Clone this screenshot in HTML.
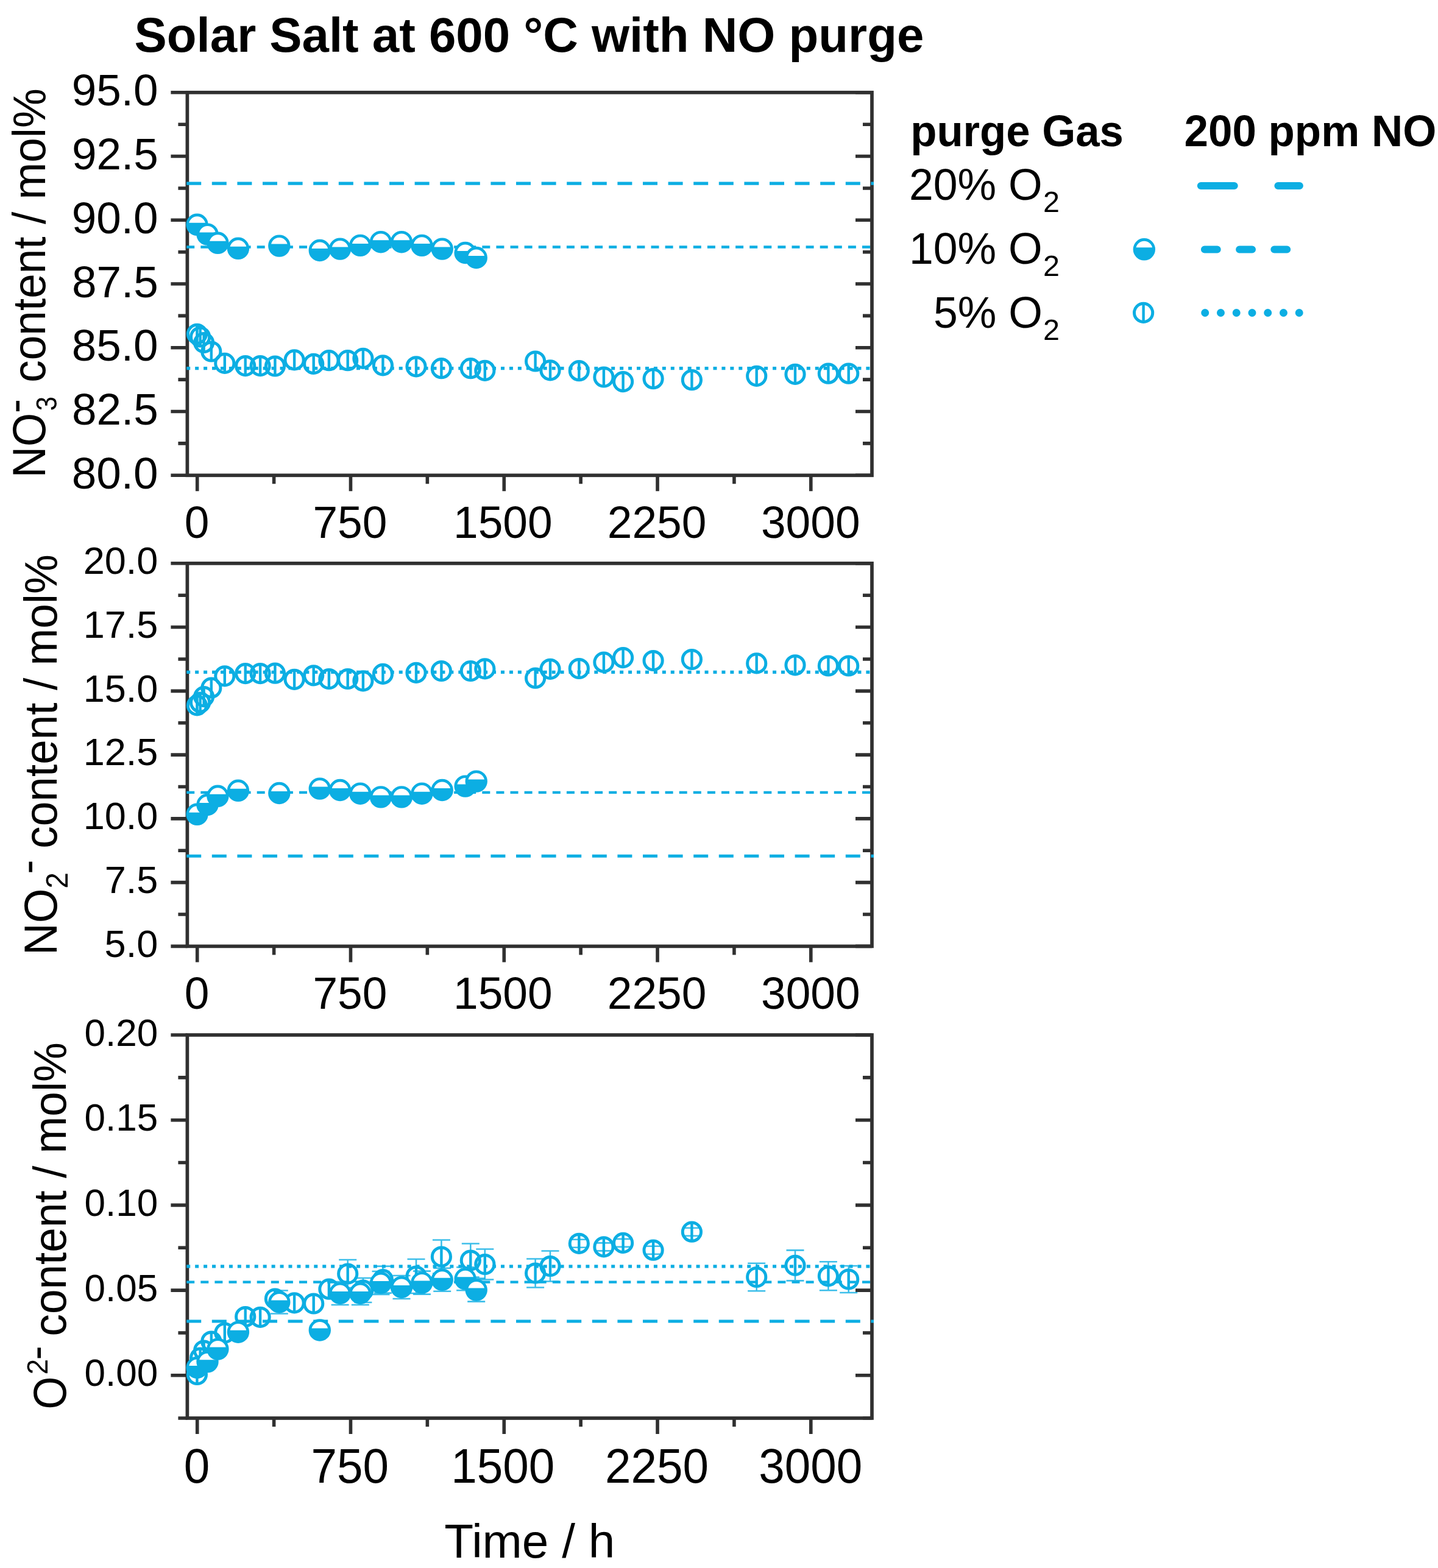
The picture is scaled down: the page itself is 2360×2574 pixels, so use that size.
<!DOCTYPE html>
<html lang="en">
<head>
<meta charset="utf-8">
<title>Solar Salt at 600 °C with NO purge</title>
<style>html,body{margin:0;padding:0;background:#fff}svg{display:block}</style>
</head>
<body>
<svg xmlns="http://www.w3.org/2000/svg" width="2360" height="2574" viewBox="0 0 2360 2574" font-family="'Liberation Sans', Arial, sans-serif" fill="#000">
<rect width="2360" height="2574" fill="#fff"/>
<g id="panel1">
<rect x="307.4" y="151.8" width="1123.6" height="628.5" fill="none" stroke="#303030" stroke-width="5.7"/>
<path d="M280.4 151.8H307.4M1404 151.8H1431M280.4 256.55H307.4M1404 256.55H1431M280.4 361.3H307.4M1404 361.3H1431M280.4 466.05H307.4M1404 466.05H1431M280.4 570.8H307.4M1404 570.8H1431M280.4 675.55H307.4M1404 675.55H1431M280.4 780.3H307.4M1404 780.3H1431M292.4 204.18H307.4M1416 204.18H1431M292.4 308.93H307.4M1416 308.93H1431M292.4 413.68H307.4M1416 413.68H1431M292.4 518.42H307.4M1416 518.42H1431M292.4 623.17H307.4M1416 623.17H1431M292.4 727.92H307.4M1416 727.92H1431M323.7 780.3V806.3M575.47 780.3V806.3M827.25 780.3V806.3M1079.03 780.3V806.3M1330.8 780.3V806.3M449.59 780.3V794.3M701.36 780.3V794.3M953.14 780.3V794.3M1204.91 780.3V794.3" stroke="#303030" stroke-width="5.6" fill="none"/>
<path d="M306.2 301.1H1434" stroke="#0caee3" stroke-width="5.1" stroke-dasharray="24 17.6" fill="none"/>
<path d="M306.2 405.5H1434" stroke="#0caee3" stroke-width="4.3" stroke-dasharray="13 10.1" fill="none"/>
<path d="M306.2 604.6H1434" stroke="#0caee3" stroke-width="5.3" stroke-dasharray="6 7.94" fill="none"/>
<circle cx="323.5" cy="368.8" r="15.9" fill="#fff" stroke="#0caee3" stroke-width="4.6"/><path d="M307.6 365.8H339.4V368.8A15.9 15.9 0 0 1 307.6 368.8Z" fill="#0caee3"/>
<circle cx="340.5" cy="384.6" r="15.9" fill="#fff" stroke="#0caee3" stroke-width="4.6"/><path d="M324.6 381.6H356.4V384.6A15.9 15.9 0 0 1 324.6 384.6Z" fill="#0caee3"/>
<circle cx="357.4" cy="398.8" r="15.9" fill="#fff" stroke="#0caee3" stroke-width="4.6"/><path d="M341.5 395.8H373.3V398.8A15.9 15.9 0 0 1 341.5 398.8Z" fill="#0caee3"/>
<circle cx="390.9" cy="407.8" r="15.9" fill="#fff" stroke="#0caee3" stroke-width="4.6"/><path d="M375 404.8H406.8V407.8A15.9 15.9 0 0 1 375 407.8Z" fill="#0caee3"/>
<circle cx="458.3" cy="403.6" r="15.9" fill="#fff" stroke="#0caee3" stroke-width="4.6"/><path d="M442.4 400.6H474.2V403.6A15.9 15.9 0 0 1 442.4 403.6Z" fill="#0caee3"/>
<circle cx="524.8" cy="411" r="15.9" fill="#fff" stroke="#0caee3" stroke-width="4.6"/><path d="M508.9 408H540.7V411A15.9 15.9 0 0 1 508.9 411Z" fill="#0caee3"/>
<circle cx="558.1" cy="408.6" r="15.9" fill="#fff" stroke="#0caee3" stroke-width="4.6"/><path d="M542.2 405.6H574V408.6A15.9 15.9 0 0 1 542.2 408.6Z" fill="#0caee3"/>
<circle cx="591.3" cy="402.9" r="15.9" fill="#fff" stroke="#0caee3" stroke-width="4.6"/><path d="M575.4 399.9H607.2V402.9A15.9 15.9 0 0 1 575.4 402.9Z" fill="#0caee3"/>
<circle cx="625" cy="397.2" r="15.9" fill="#fff" stroke="#0caee3" stroke-width="4.6"/><path d="M609.1 394.2H640.9V397.2A15.9 15.9 0 0 1 609.1 397.2Z" fill="#0caee3"/>
<circle cx="659" cy="397.2" r="15.9" fill="#fff" stroke="#0caee3" stroke-width="4.6"/><path d="M643.1 394.2H674.9V397.2A15.9 15.9 0 0 1 643.1 397.2Z" fill="#0caee3"/>
<circle cx="692.4" cy="402.9" r="15.9" fill="#fff" stroke="#0caee3" stroke-width="4.6"/><path d="M676.5 399.9H708.3V402.9A15.9 15.9 0 0 1 676.5 402.9Z" fill="#0caee3"/>
<circle cx="725.7" cy="408.6" r="15.9" fill="#fff" stroke="#0caee3" stroke-width="4.6"/><path d="M709.8 405.6H741.6V408.6A15.9 15.9 0 0 1 709.8 408.6Z" fill="#0caee3"/>
<circle cx="763.6" cy="415" r="15.9" fill="#fff" stroke="#0caee3" stroke-width="4.6"/><path d="M747.7 412H779.5V415A15.9 15.9 0 0 1 747.7 415Z" fill="#0caee3"/>
<circle cx="781.7" cy="423" r="15.9" fill="#fff" stroke="#0caee3" stroke-width="4.6"/><path d="M765.8 420H797.6V423A15.9 15.9 0 0 1 765.8 423Z" fill="#0caee3"/>
<circle cx="323.4" cy="548.3" r="15.1" fill="none" stroke="#0caee3" stroke-width="5.0"/><path d="M323.4 533.2V563.4" stroke="#0caee3" stroke-width="4.4" fill="none"/>
<circle cx="328.6" cy="553" r="15.1" fill="none" stroke="#0caee3" stroke-width="5.0"/><path d="M328.6 537.9V568.1" stroke="#0caee3" stroke-width="4.4" fill="none"/>
<circle cx="334.6" cy="562.6" r="15.1" fill="none" stroke="#0caee3" stroke-width="5.0"/><path d="M334.6 547.5V577.7" stroke="#0caee3" stroke-width="4.4" fill="none"/>
<circle cx="346.8" cy="577" r="15.1" fill="none" stroke="#0caee3" stroke-width="5.0"/><path d="M346.8 561.9V592.1" stroke="#0caee3" stroke-width="4.4" fill="none"/>
<circle cx="368.8" cy="596.4" r="15.1" fill="none" stroke="#0caee3" stroke-width="5.0"/><path d="M368.8 581.3V611.5" stroke="#0caee3" stroke-width="4.4" fill="none"/>
<circle cx="402.7" cy="600.6" r="15.1" fill="none" stroke="#0caee3" stroke-width="5.0"/><path d="M402.7 585.5V615.7" stroke="#0caee3" stroke-width="4.4" fill="none"/>
<circle cx="427.1" cy="600.6" r="15.1" fill="none" stroke="#0caee3" stroke-width="5.0"/><path d="M427.1 585.5V615.7" stroke="#0caee3" stroke-width="4.4" fill="none"/>
<circle cx="451.4" cy="601" r="15.1" fill="none" stroke="#0caee3" stroke-width="5.0"/><path d="M451.4 585.9V616.1" stroke="#0caee3" stroke-width="4.4" fill="none"/>
<circle cx="483.1" cy="590.9" r="15.1" fill="none" stroke="#0caee3" stroke-width="5.0"/><path d="M483.1 575.8V606" stroke="#0caee3" stroke-width="4.4" fill="none"/>
<circle cx="514.7" cy="597.4" r="15.1" fill="none" stroke="#0caee3" stroke-width="5.0"/><path d="M514.7 582.3V612.5" stroke="#0caee3" stroke-width="4.4" fill="none"/>
<circle cx="539.9" cy="591.7" r="15.1" fill="none" stroke="#0caee3" stroke-width="5.0"/><path d="M539.9 576.6V606.8" stroke="#0caee3" stroke-width="4.4" fill="none"/>
<circle cx="570.7" cy="591.7" r="15.1" fill="none" stroke="#0caee3" stroke-width="5.0"/><path d="M570.7 576.6V606.8" stroke="#0caee3" stroke-width="4.4" fill="none"/>
<circle cx="595.9" cy="588.4" r="15.1" fill="none" stroke="#0caee3" stroke-width="5.0"/><path d="M595.9 573.3V603.5" stroke="#0caee3" stroke-width="4.4" fill="none"/>
<circle cx="628.4" cy="599.8" r="15.1" fill="none" stroke="#0caee3" stroke-width="5.0"/><path d="M628.4 584.7V614.9" stroke="#0caee3" stroke-width="4.4" fill="none"/>
<circle cx="683" cy="601.8" r="15.1" fill="none" stroke="#0caee3" stroke-width="5.0"/><path d="M683 586.7V616.9" stroke="#0caee3" stroke-width="4.4" fill="none"/>
<circle cx="724.4" cy="604.7" r="15.1" fill="none" stroke="#0caee3" stroke-width="5.0"/><path d="M724.4 589.6V619.8" stroke="#0caee3" stroke-width="4.4" fill="none"/>
<circle cx="772.3" cy="604.7" r="15.1" fill="none" stroke="#0caee3" stroke-width="5.0"/><path d="M772.3 589.6V619.8" stroke="#0caee3" stroke-width="4.4" fill="none"/>
<circle cx="795.8" cy="608.3" r="15.1" fill="none" stroke="#0caee3" stroke-width="5.0"/><path d="M795.8 593.2V623.4" stroke="#0caee3" stroke-width="4.4" fill="none"/>
<circle cx="878.6" cy="593" r="15.1" fill="none" stroke="#0caee3" stroke-width="5.0"/><path d="M878.6 577.9V608.1" stroke="#0caee3" stroke-width="4.4" fill="none"/>
<circle cx="903" cy="607.9" r="15.1" fill="none" stroke="#0caee3" stroke-width="5.0"/><path d="M903 592.8V623" stroke="#0caee3" stroke-width="4.4" fill="none"/>
<circle cx="950.3" cy="608.7" r="15.1" fill="none" stroke="#0caee3" stroke-width="5.0"/><path d="M950.3 593.6V623.8" stroke="#0caee3" stroke-width="4.4" fill="none"/>
<circle cx="990.9" cy="619" r="15.1" fill="none" stroke="#0caee3" stroke-width="5.0"/><path d="M990.9 603.9V634.1" stroke="#0caee3" stroke-width="4.4" fill="none"/>
<circle cx="1022.6" cy="626.6" r="15.1" fill="none" stroke="#0caee3" stroke-width="5.0"/><path d="M1022.6 611.5V641.7" stroke="#0caee3" stroke-width="4.4" fill="none"/>
<circle cx="1072.1" cy="621.7" r="15.1" fill="none" stroke="#0caee3" stroke-width="5.0"/><path d="M1072.1 606.6V636.8" stroke="#0caee3" stroke-width="4.4" fill="none"/>
<circle cx="1135.4" cy="623.7" r="15.1" fill="none" stroke="#0caee3" stroke-width="5.0"/><path d="M1135.4 608.6V638.8" stroke="#0caee3" stroke-width="4.4" fill="none"/>
<circle cx="1241.7" cy="617.3" r="15.1" fill="none" stroke="#0caee3" stroke-width="5.0"/><path d="M1241.7 602.2V632.4" stroke="#0caee3" stroke-width="4.4" fill="none"/>
<circle cx="1305" cy="614.4" r="15.1" fill="none" stroke="#0caee3" stroke-width="5.0"/><path d="M1305 599.3V629.5" stroke="#0caee3" stroke-width="4.4" fill="none"/>
<circle cx="1359.4" cy="613.2" r="15.1" fill="none" stroke="#0caee3" stroke-width="5.0"/><path d="M1359.4 598.1V628.3" stroke="#0caee3" stroke-width="4.4" fill="none"/>
<circle cx="1392.7" cy="613.2" r="15.1" fill="none" stroke="#0caee3" stroke-width="5.0"/><path d="M1392.7 598.1V628.3" stroke="#0caee3" stroke-width="4.4" fill="none"/>
<text transform="translate(117.76 173.4) scale(1.0040 1)" font-size="72.6">95.0</text>
<text transform="translate(117.94 278.15) scale(1.0040 1)" font-size="72.6">92.5</text>
<text transform="translate(117.76 382.9) scale(1.0040 1)" font-size="72.6">90.0</text>
<text transform="translate(117.94 487.65) scale(1.0040 1)" font-size="72.6">87.5</text>
<text transform="translate(117.76 592.4) scale(1.0040 1)" font-size="72.6">85.0</text>
<text transform="translate(117.94 697.15) scale(1.0040 1)" font-size="72.6">82.5</text>
<text transform="translate(117.76 801.9) scale(1.0040 1)" font-size="72.6">80.0</text>
<text transform="translate(302.73 882.9) scale(0.9850 1)" font-size="74.2">0</text>
<text transform="translate(513.39 882.9) scale(0.9850 1)" font-size="74.2">750</text>
<text transform="translate(744.06 882.9) scale(0.9850 1)" font-size="74.2">1500</text>
<text transform="translate(996.75 882.9) scale(0.9850 1)" font-size="74.2">2250</text>
<text transform="translate(1248.98 882.9) scale(0.9850 1)" font-size="74.2">3000</text>
</g>
<g id="panel2">
<rect x="307.4" y="924.8" width="1123.6" height="628.6" fill="none" stroke="#303030" stroke-width="5.7"/>
<path d="M280.4 924.8H307.4M1404 924.8H1431M280.4 1029.57H307.4M1404 1029.57H1431M280.4 1134.34H307.4M1404 1134.34H1431M280.4 1239.11H307.4M1404 1239.11H1431M280.4 1343.88H307.4M1404 1343.88H1431M280.4 1448.65H307.4M1404 1448.65H1431M280.4 1553.4H307.4M1404 1553.4H1431M292.4 977.18H307.4M1416 977.18H1431M292.4 1081.95H307.4M1416 1081.95H1431M292.4 1186.72H307.4M1416 1186.72H1431M292.4 1291.49H307.4M1416 1291.49H1431M292.4 1396.26H307.4M1416 1396.26H1431M292.4 1501.03H307.4M1416 1501.03H1431M323.7 1553.4V1579.4M575.47 1553.4V1579.4M827.25 1553.4V1579.4M1079.03 1553.4V1579.4M1330.8 1553.4V1579.4M449.59 1553.4V1567.4M701.36 1553.4V1567.4M953.14 1553.4V1567.4M1204.91 1553.4V1567.4" stroke="#303030" stroke-width="5.6" fill="none"/>
<path d="M306.2 1405.3H1434" stroke="#0caee3" stroke-width="5.1" stroke-dasharray="24 17.6" fill="none"/>
<path d="M306.2 1300.8H1434" stroke="#0caee3" stroke-width="4.3" stroke-dasharray="13 10.1" fill="none"/>
<path d="M306.2 1103.3H1434" stroke="#0caee3" stroke-width="5.3" stroke-dasharray="6 7.94" fill="none"/>
<circle cx="323.5" cy="1336.8" r="15.9" fill="#fff" stroke="#0caee3" stroke-width="4.6"/><path d="M307.6 1333.8H339.4V1336.8A15.9 15.9 0 0 1 307.6 1336.8Z" fill="#0caee3"/>
<circle cx="340.5" cy="1321" r="15.9" fill="#fff" stroke="#0caee3" stroke-width="4.6"/><path d="M324.6 1318H356.4V1321A15.9 15.9 0 0 1 324.6 1321Z" fill="#0caee3"/>
<circle cx="357.4" cy="1306.8" r="15.9" fill="#fff" stroke="#0caee3" stroke-width="4.6"/><path d="M341.5 1303.8H373.3V1306.8A15.9 15.9 0 0 1 341.5 1306.8Z" fill="#0caee3"/>
<circle cx="390.9" cy="1297.8" r="15.9" fill="#fff" stroke="#0caee3" stroke-width="4.6"/><path d="M375 1294.8H406.8V1297.8A15.9 15.9 0 0 1 375 1297.8Z" fill="#0caee3"/>
<circle cx="458.3" cy="1302" r="15.9" fill="#fff" stroke="#0caee3" stroke-width="4.6"/><path d="M442.4 1299H474.2V1302A15.9 15.9 0 0 1 442.4 1302Z" fill="#0caee3"/>
<circle cx="524.8" cy="1294.6" r="15.9" fill="#fff" stroke="#0caee3" stroke-width="4.6"/><path d="M508.9 1291.6H540.7V1294.6A15.9 15.9 0 0 1 508.9 1294.6Z" fill="#0caee3"/>
<circle cx="558.1" cy="1297" r="15.9" fill="#fff" stroke="#0caee3" stroke-width="4.6"/><path d="M542.2 1294H574V1297A15.9 15.9 0 0 1 542.2 1297Z" fill="#0caee3"/>
<circle cx="591.3" cy="1302.7" r="15.9" fill="#fff" stroke="#0caee3" stroke-width="4.6"/><path d="M575.4 1299.7H607.2V1302.7A15.9 15.9 0 0 1 575.4 1302.7Z" fill="#0caee3"/>
<circle cx="625" cy="1308.4" r="15.9" fill="#fff" stroke="#0caee3" stroke-width="4.6"/><path d="M609.1 1305.4H640.9V1308.4A15.9 15.9 0 0 1 609.1 1308.4Z" fill="#0caee3"/>
<circle cx="659" cy="1308.4" r="15.9" fill="#fff" stroke="#0caee3" stroke-width="4.6"/><path d="M643.1 1305.4H674.9V1308.4A15.9 15.9 0 0 1 643.1 1308.4Z" fill="#0caee3"/>
<circle cx="692.4" cy="1302.7" r="15.9" fill="#fff" stroke="#0caee3" stroke-width="4.6"/><path d="M676.5 1299.7H708.3V1302.7A15.9 15.9 0 0 1 676.5 1302.7Z" fill="#0caee3"/>
<circle cx="725.7" cy="1297" r="15.9" fill="#fff" stroke="#0caee3" stroke-width="4.6"/><path d="M709.8 1294H741.6V1297A15.9 15.9 0 0 1 709.8 1297Z" fill="#0caee3"/>
<circle cx="763.6" cy="1290.6" r="15.9" fill="#fff" stroke="#0caee3" stroke-width="4.6"/><path d="M747.7 1287.6H779.5V1290.6A15.9 15.9 0 0 1 747.7 1290.6Z" fill="#0caee3"/>
<circle cx="781.7" cy="1282.6" r="15.9" fill="#fff" stroke="#0caee3" stroke-width="4.6"/><path d="M765.8 1279.6H797.6V1282.6A15.9 15.9 0 0 1 765.8 1282.6Z" fill="#0caee3"/>
<circle cx="323.4" cy="1157.9" r="15.1" fill="none" stroke="#0caee3" stroke-width="5.0"/><path d="M323.4 1142.8V1173" stroke="#0caee3" stroke-width="4.4" fill="none"/>
<circle cx="328.6" cy="1153.2" r="15.1" fill="none" stroke="#0caee3" stroke-width="5.0"/><path d="M328.6 1138.1V1168.3" stroke="#0caee3" stroke-width="4.4" fill="none"/>
<circle cx="334.6" cy="1143.6" r="15.1" fill="none" stroke="#0caee3" stroke-width="5.0"/><path d="M334.6 1128.5V1158.7" stroke="#0caee3" stroke-width="4.4" fill="none"/>
<circle cx="346.8" cy="1129.2" r="15.1" fill="none" stroke="#0caee3" stroke-width="5.0"/><path d="M346.8 1114.1V1144.3" stroke="#0caee3" stroke-width="4.4" fill="none"/>
<circle cx="368.8" cy="1109.8" r="15.1" fill="none" stroke="#0caee3" stroke-width="5.0"/><path d="M368.8 1094.7V1124.9" stroke="#0caee3" stroke-width="4.4" fill="none"/>
<circle cx="402.7" cy="1105.6" r="15.1" fill="none" stroke="#0caee3" stroke-width="5.0"/><path d="M402.7 1090.5V1120.7" stroke="#0caee3" stroke-width="4.4" fill="none"/>
<circle cx="427.1" cy="1105.6" r="15.1" fill="none" stroke="#0caee3" stroke-width="5.0"/><path d="M427.1 1090.5V1120.7" stroke="#0caee3" stroke-width="4.4" fill="none"/>
<circle cx="451.4" cy="1105.2" r="15.1" fill="none" stroke="#0caee3" stroke-width="5.0"/><path d="M451.4 1090.1V1120.3" stroke="#0caee3" stroke-width="4.4" fill="none"/>
<circle cx="483.1" cy="1115.3" r="15.1" fill="none" stroke="#0caee3" stroke-width="5.0"/><path d="M483.1 1100.2V1130.4" stroke="#0caee3" stroke-width="4.4" fill="none"/>
<circle cx="514.7" cy="1108.8" r="15.1" fill="none" stroke="#0caee3" stroke-width="5.0"/><path d="M514.7 1093.7V1123.9" stroke="#0caee3" stroke-width="4.4" fill="none"/>
<circle cx="539.9" cy="1114.5" r="15.1" fill="none" stroke="#0caee3" stroke-width="5.0"/><path d="M539.9 1099.4V1129.6" stroke="#0caee3" stroke-width="4.4" fill="none"/>
<circle cx="570.7" cy="1114.5" r="15.1" fill="none" stroke="#0caee3" stroke-width="5.0"/><path d="M570.7 1099.4V1129.6" stroke="#0caee3" stroke-width="4.4" fill="none"/>
<circle cx="595.9" cy="1117.8" r="15.1" fill="none" stroke="#0caee3" stroke-width="5.0"/><path d="M595.9 1102.7V1132.9" stroke="#0caee3" stroke-width="4.4" fill="none"/>
<circle cx="628.4" cy="1106.4" r="15.1" fill="none" stroke="#0caee3" stroke-width="5.0"/><path d="M628.4 1091.3V1121.5" stroke="#0caee3" stroke-width="4.4" fill="none"/>
<circle cx="683" cy="1104.4" r="15.1" fill="none" stroke="#0caee3" stroke-width="5.0"/><path d="M683 1089.3V1119.5" stroke="#0caee3" stroke-width="4.4" fill="none"/>
<circle cx="724.4" cy="1101.5" r="15.1" fill="none" stroke="#0caee3" stroke-width="5.0"/><path d="M724.4 1086.4V1116.6" stroke="#0caee3" stroke-width="4.4" fill="none"/>
<circle cx="772.3" cy="1101.5" r="15.1" fill="none" stroke="#0caee3" stroke-width="5.0"/><path d="M772.3 1086.4V1116.6" stroke="#0caee3" stroke-width="4.4" fill="none"/>
<circle cx="795.8" cy="1097.9" r="15.1" fill="none" stroke="#0caee3" stroke-width="5.0"/><path d="M795.8 1082.8V1113" stroke="#0caee3" stroke-width="4.4" fill="none"/>
<circle cx="878.6" cy="1113.2" r="15.1" fill="none" stroke="#0caee3" stroke-width="5.0"/><path d="M878.6 1098.1V1128.3" stroke="#0caee3" stroke-width="4.4" fill="none"/>
<circle cx="903" cy="1098.3" r="15.1" fill="none" stroke="#0caee3" stroke-width="5.0"/><path d="M903 1083.2V1113.4" stroke="#0caee3" stroke-width="4.4" fill="none"/>
<circle cx="950.3" cy="1097.5" r="15.1" fill="none" stroke="#0caee3" stroke-width="5.0"/><path d="M950.3 1082.4V1112.6" stroke="#0caee3" stroke-width="4.4" fill="none"/>
<circle cx="990.9" cy="1087.2" r="15.1" fill="none" stroke="#0caee3" stroke-width="5.0"/><path d="M990.9 1072.1V1102.3" stroke="#0caee3" stroke-width="4.4" fill="none"/>
<circle cx="1022.6" cy="1079.6" r="15.1" fill="none" stroke="#0caee3" stroke-width="5.0"/><path d="M1022.6 1064.5V1094.7" stroke="#0caee3" stroke-width="4.4" fill="none"/>
<circle cx="1072.1" cy="1084.5" r="15.1" fill="none" stroke="#0caee3" stroke-width="5.0"/><path d="M1072.1 1069.4V1099.6" stroke="#0caee3" stroke-width="4.4" fill="none"/>
<circle cx="1135.4" cy="1082.5" r="15.1" fill="none" stroke="#0caee3" stroke-width="5.0"/><path d="M1135.4 1067.4V1097.6" stroke="#0caee3" stroke-width="4.4" fill="none"/>
<circle cx="1241.7" cy="1088.9" r="15.1" fill="none" stroke="#0caee3" stroke-width="5.0"/><path d="M1241.7 1073.8V1104" stroke="#0caee3" stroke-width="4.4" fill="none"/>
<circle cx="1305" cy="1091.8" r="15.1" fill="none" stroke="#0caee3" stroke-width="5.0"/><path d="M1305 1076.7V1106.9" stroke="#0caee3" stroke-width="4.4" fill="none"/>
<circle cx="1359.4" cy="1093" r="15.1" fill="none" stroke="#0caee3" stroke-width="5.0"/><path d="M1359.4 1077.9V1108.1" stroke="#0caee3" stroke-width="4.4" fill="none"/>
<circle cx="1392.7" cy="1093" r="15.1" fill="none" stroke="#0caee3" stroke-width="5.0"/><path d="M1392.7 1077.9V1108.1" stroke="#0caee3" stroke-width="4.4" fill="none"/>
<text transform="translate(136.63 942.1)" font-size="63">20.0</text>
<text transform="translate(136.79 1046.87)" font-size="63">17.5</text>
<text transform="translate(136.63 1151.64)" font-size="63">15.0</text>
<text transform="translate(136.79 1256.41)" font-size="63">12.5</text>
<text transform="translate(136.63 1361.18)" font-size="63">10.0</text>
<text transform="translate(171.75 1465.95)" font-size="63">7.5</text>
<text transform="translate(171.59 1570.7)" font-size="63">5.0</text>
<text transform="translate(302.73 1656.2) scale(0.9820 1)" font-size="74.4">0</text>
<text transform="translate(513.41 1656.2) scale(0.9820 1)" font-size="74.4">750</text>
<text transform="translate(744.09 1656.2) scale(0.9820 1)" font-size="74.4">1500</text>
<text transform="translate(996.78 1656.2) scale(0.9820 1)" font-size="74.4">2250</text>
<text transform="translate(1249.01 1656.2) scale(0.9820 1)" font-size="74.4">3000</text>
</g>
<g id="panel3">
<rect x="307.4" y="1699" width="1123.6" height="629" fill="none" stroke="#303030" stroke-width="5.7"/>
<path d="M280.4 1699H307.4M1404 1699H1431M280.4 1838.7H307.4M1404 1838.7H1431M280.4 1978.4H307.4M1404 1978.4H1431M280.4 2118.1H307.4M1404 2118.1H1431M280.4 2257.8H307.4M1404 2257.8H1431M292.4 1768.85H307.4M1416 1768.85H1431M292.4 1908.55H307.4M1416 1908.55H1431M292.4 2048.25H307.4M1416 2048.25H1431M292.4 2187.95H307.4M1416 2187.95H1431M292.4 2328H307.4M1416 2328H1431M323.7 2328V2354M575.47 2328V2354M827.25 2328V2354M1079.03 2328V2354M1330.8 2328V2354M449.59 2328V2342M701.36 2328V2342M953.14 2328V2342M1204.91 2328V2342" stroke="#303030" stroke-width="5.6" fill="none"/>
<path d="M306.2 2169H1434" stroke="#0caee3" stroke-width="5.1" stroke-dasharray="24 17.6" fill="none"/>
<path d="M306.2 2104.6H1434" stroke="#0caee3" stroke-width="4.3" stroke-dasharray="13 10.1" fill="none"/>
<path d="M306.2 2078.8H1434" stroke="#0caee3" stroke-width="5.3" stroke-dasharray="6 7.94" fill="none"/>
<circle cx="323.4" cy="2256.5" r="15.1" fill="none" stroke="#0caee3" stroke-width="5.0"/><path d="M323.4 2241.4V2271.6" stroke="#0caee3" stroke-width="4.4" fill="none"/>
<circle cx="328.6" cy="2229" r="15.1" fill="none" stroke="#0caee3" stroke-width="5.0"/><path d="M328.6 2213.9V2244.1" stroke="#0caee3" stroke-width="4.4" fill="none"/>
<circle cx="334.6" cy="2217" r="15.1" fill="none" stroke="#0caee3" stroke-width="5.0"/><path d="M334.6 2201.9V2232.1" stroke="#0caee3" stroke-width="4.4" fill="none"/>
<circle cx="346.8" cy="2202" r="15.1" fill="none" stroke="#0caee3" stroke-width="5.0"/><path d="M346.8 2186.9V2217.1" stroke="#0caee3" stroke-width="4.4" fill="none"/>
<circle cx="368.8" cy="2188" r="15.1" fill="none" stroke="#0caee3" stroke-width="5.0"/><path d="M368.8 2172.9V2203.1" stroke="#0caee3" stroke-width="4.4" fill="none"/>
<circle cx="402.7" cy="2161.5" r="15.1" fill="none" stroke="#0caee3" stroke-width="5.0"/><path d="M402.7 2146.4V2176.6" stroke="#0caee3" stroke-width="4.4" fill="none"/>
<circle cx="427.1" cy="2162.3" r="15.1" fill="none" stroke="#0caee3" stroke-width="5.0"/><path d="M427.1 2147.2V2177.4" stroke="#0caee3" stroke-width="4.4" fill="none"/>
<circle cx="451.4" cy="2132" r="15.1" fill="none" stroke="#0caee3" stroke-width="5.0"/><path d="M451.4 2116.9V2147.1" stroke="#0caee3" stroke-width="4.4" fill="none"/>
<circle cx="483.1" cy="2138.8" r="15.1" fill="none" stroke="#0caee3" stroke-width="5.0"/><path d="M483.1 2123.7V2153.9" stroke="#0caee3" stroke-width="4.4" fill="none"/>
<circle cx="514.7" cy="2140" r="15.1" fill="none" stroke="#0caee3" stroke-width="5.0"/><path d="M514.7 2124.9V2155.1" stroke="#0caee3" stroke-width="4.4" fill="none"/>
<circle cx="539.9" cy="2116.2" r="15.1" fill="none" stroke="#0caee3" stroke-width="5.0"/><path d="M539.9 2101.1V2131.3" stroke="#0caee3" stroke-width="4.4" fill="none"/>
<path d="M570.7 2068V2114M556.2 2068h29M556.2 2114h29" stroke="#0caee3" stroke-width="2.6" fill="none" opacity="0.8"/>
<circle cx="570.7" cy="2091" r="15.1" fill="none" stroke="#0caee3" stroke-width="5.0"/><path d="M570.7 2075.9V2106.1" stroke="#0caee3" stroke-width="4.4" fill="none"/>
<path d="M595.9 2098V2138M581.4 2098h29M581.4 2138h29" stroke="#0caee3" stroke-width="2.6" fill="none" opacity="0.8"/>
<circle cx="595.9" cy="2118" r="15.1" fill="none" stroke="#0caee3" stroke-width="5.0"/><path d="M595.9 2102.9V2133.1" stroke="#0caee3" stroke-width="4.4" fill="none"/>
<path d="M628.4 2078.6V2122.6M613.9 2078.6h29M613.9 2122.6h29" stroke="#0caee3" stroke-width="2.6" fill="none" opacity="0.8"/>
<circle cx="628.4" cy="2100.6" r="15.1" fill="none" stroke="#0caee3" stroke-width="5.0"/><path d="M628.4 2085.5V2115.7" stroke="#0caee3" stroke-width="4.4" fill="none"/>
<path d="M683 2067V2123M668.5 2067h29M668.5 2123h29" stroke="#0caee3" stroke-width="2.6" fill="none" opacity="0.8"/>
<circle cx="683" cy="2095" r="15.1" fill="none" stroke="#0caee3" stroke-width="5.0"/><path d="M683 2079.9V2110.1" stroke="#0caee3" stroke-width="4.4" fill="none"/>
<path d="M724.4 2035.5V2090.5M709.9 2035.5h29M709.9 2090.5h29" stroke="#0caee3" stroke-width="2.6" fill="none" opacity="0.8"/>
<circle cx="724.4" cy="2063" r="15.1" fill="none" stroke="#0caee3" stroke-width="5.0"/><path d="M724.4 2047.9V2078.1" stroke="#0caee3" stroke-width="4.4" fill="none"/>
<path d="M772.3 2041.5V2096.5M757.8 2041.5h29M757.8 2096.5h29" stroke="#0caee3" stroke-width="2.6" fill="none" opacity="0.8"/>
<circle cx="772.3" cy="2069" r="15.1" fill="none" stroke="#0caee3" stroke-width="5.0"/><path d="M772.3 2053.9V2084.1" stroke="#0caee3" stroke-width="4.4" fill="none"/>
<path d="M795.8 2050.5V2100.5M781.3 2050.5h29M781.3 2100.5h29" stroke="#0caee3" stroke-width="2.6" fill="none" opacity="0.8"/>
<circle cx="795.8" cy="2075.5" r="15.1" fill="none" stroke="#0caee3" stroke-width="5.0"/><path d="M795.8 2060.4V2090.6" stroke="#0caee3" stroke-width="4.4" fill="none"/>
<path d="M878.6 2066.5V2113.5M864.1 2066.5h29M864.1 2113.5h29" stroke="#0caee3" stroke-width="2.6" fill="none" opacity="0.8"/>
<circle cx="878.6" cy="2090" r="15.1" fill="none" stroke="#0caee3" stroke-width="5.0"/><path d="M878.6 2074.9V2105.1" stroke="#0caee3" stroke-width="4.4" fill="none"/>
<path d="M903 2053.5V2103.5M888.5 2053.5h29M888.5 2103.5h29" stroke="#0caee3" stroke-width="2.6" fill="none" opacity="0.8"/>
<circle cx="903" cy="2078.5" r="15.1" fill="none" stroke="#0caee3" stroke-width="5.0"/><path d="M903 2063.4V2093.6" stroke="#0caee3" stroke-width="4.4" fill="none"/>
<path d="M950.3 2034.8V2047.8M935.8 2034.8h29M935.8 2047.8h29" stroke="#0caee3" stroke-width="2.6" fill="none" opacity="0.8"/>
<circle cx="950.3" cy="2041.3" r="15.1" fill="none" stroke="#0caee3" stroke-width="5.0"/><path d="M950.3 2026.2V2056.4" stroke="#0caee3" stroke-width="4.4" fill="none"/>
<path d="M990.9 2040.4V2053.4M976.4 2040.4h29M976.4 2053.4h29" stroke="#0caee3" stroke-width="2.6" fill="none" opacity="0.8"/>
<circle cx="990.9" cy="2046.9" r="15.1" fill="none" stroke="#0caee3" stroke-width="5.0"/><path d="M990.9 2031.8V2062" stroke="#0caee3" stroke-width="4.4" fill="none"/>
<path d="M1022.6 2033.9V2046.9M1008.1 2033.9h29M1008.1 2046.9h29" stroke="#0caee3" stroke-width="2.6" fill="none" opacity="0.8"/>
<circle cx="1022.6" cy="2040.4" r="15.1" fill="none" stroke="#0caee3" stroke-width="5.0"/><path d="M1022.6 2025.3V2055.5" stroke="#0caee3" stroke-width="4.4" fill="none"/>
<path d="M1072.1 2045.7V2058.7M1057.6 2045.7h29M1057.6 2058.7h29" stroke="#0caee3" stroke-width="2.6" fill="none" opacity="0.8"/>
<circle cx="1072.1" cy="2052.2" r="15.1" fill="none" stroke="#0caee3" stroke-width="5.0"/><path d="M1072.1 2037.1V2067.3" stroke="#0caee3" stroke-width="4.4" fill="none"/>
<path d="M1135.4 2015.7V2028.7M1120.9 2015.7h29M1120.9 2028.7h29" stroke="#0caee3" stroke-width="2.6" fill="none" opacity="0.8"/>
<circle cx="1135.4" cy="2022.2" r="15.1" fill="none" stroke="#0caee3" stroke-width="5.0"/><path d="M1135.4 2007.1V2037.3" stroke="#0caee3" stroke-width="4.4" fill="none"/>
<path d="M1241.7 2073.8V2119.2M1227.2 2073.8h29M1227.2 2119.2h29" stroke="#0caee3" stroke-width="2.6" fill="none" opacity="0.8"/>
<circle cx="1241.7" cy="2096.5" r="15.1" fill="none" stroke="#0caee3" stroke-width="5.0"/><path d="M1241.7 2081.4V2111.6" stroke="#0caee3" stroke-width="4.4" fill="none"/>
<path d="M1305 2052.4V2102.4M1290.5 2052.4h29M1290.5 2102.4h29" stroke="#0caee3" stroke-width="2.6" fill="none" opacity="0.8"/>
<circle cx="1305" cy="2077.4" r="15.1" fill="none" stroke="#0caee3" stroke-width="5.0"/><path d="M1305 2062.3V2092.5" stroke="#0caee3" stroke-width="4.4" fill="none"/>
<path d="M1359.4 2071.3V2118.3M1344.9 2071.3h29M1344.9 2118.3h29" stroke="#0caee3" stroke-width="2.6" fill="none" opacity="0.8"/>
<circle cx="1359.4" cy="2094.8" r="15.1" fill="none" stroke="#0caee3" stroke-width="5.0"/><path d="M1359.4 2079.7V2109.9" stroke="#0caee3" stroke-width="4.4" fill="none"/>
<path d="M1392.7 2078V2122M1378.2 2078h29M1378.2 2122h29" stroke="#0caee3" stroke-width="2.6" fill="none" opacity="0.8"/>
<circle cx="1392.7" cy="2100" r="15.1" fill="none" stroke="#0caee3" stroke-width="5.0"/><path d="M1392.7 2084.9V2115.1" stroke="#0caee3" stroke-width="4.4" fill="none"/>
<circle cx="323.5" cy="2245" r="15.9" fill="#fff" stroke="#0caee3" stroke-width="4.6"/><path d="M307.6 2242H339.4V2245A15.9 15.9 0 0 1 307.6 2245Z" fill="#0caee3"/>
<circle cx="340.5" cy="2235.3" r="15.9" fill="#fff" stroke="#0caee3" stroke-width="4.6"/><path d="M324.6 2232.3H356.4V2235.3A15.9 15.9 0 0 1 324.6 2235.3Z" fill="#0caee3"/>
<circle cx="357.4" cy="2214.6" r="15.9" fill="#fff" stroke="#0caee3" stroke-width="4.6"/><path d="M341.5 2211.6H373.3V2214.6A15.9 15.9 0 0 1 341.5 2214.6Z" fill="#0caee3"/>
<circle cx="390.9" cy="2186.7" r="15.9" fill="#fff" stroke="#0caee3" stroke-width="4.6"/><path d="M375 2183.7H406.8V2186.7A15.9 15.9 0 0 1 375 2186.7Z" fill="#0caee3"/>
<path d="M458.3 2118.5V2156.5M443.8 2118.5h29M443.8 2156.5h29" stroke="#0caee3" stroke-width="2.6" fill="none" opacity="0.8"/>
<circle cx="458.3" cy="2137.5" r="15.9" fill="#fff" stroke="#0caee3" stroke-width="4.6"/><path d="M442.4 2134.5H474.2V2137.5A15.9 15.9 0 0 1 442.4 2137.5Z" fill="#0caee3"/>
<circle cx="524.8" cy="2183.5" r="15.9" fill="#fff" stroke="#0caee3" stroke-width="4.6"/><path d="M508.9 2180.5H540.7V2183.5A15.9 15.9 0 0 1 508.9 2183.5Z" fill="#0caee3"/>
<path d="M558.1 2104V2142M543.6 2104h29M543.6 2142h29" stroke="#0caee3" stroke-width="2.6" fill="none" opacity="0.8"/>
<circle cx="558.1" cy="2123" r="15.9" fill="#fff" stroke="#0caee3" stroke-width="4.6"/><path d="M542.2 2120H574V2123A15.9 15.9 0 0 1 542.2 2123Z" fill="#0caee3"/>
<path d="M591.3 2104V2142M576.8 2104h29M576.8 2142h29" stroke="#0caee3" stroke-width="2.6" fill="none" opacity="0.8"/>
<circle cx="591.3" cy="2123" r="15.9" fill="#fff" stroke="#0caee3" stroke-width="4.6"/><path d="M575.4 2120H607.2V2123A15.9 15.9 0 0 1 575.4 2123Z" fill="#0caee3"/>
<path d="M625 2087V2125M610.5 2087h29M610.5 2125h29" stroke="#0caee3" stroke-width="2.6" fill="none" opacity="0.8"/>
<circle cx="625" cy="2106" r="15.9" fill="#fff" stroke="#0caee3" stroke-width="4.6"/><path d="M609.1 2103H640.9V2106A15.9 15.9 0 0 1 609.1 2106Z" fill="#0caee3"/>
<path d="M659 2094V2132M644.5 2094h29M644.5 2132h29" stroke="#0caee3" stroke-width="2.6" fill="none" opacity="0.8"/>
<circle cx="659" cy="2113" r="15.9" fill="#fff" stroke="#0caee3" stroke-width="4.6"/><path d="M643.1 2110H674.9V2113A15.9 15.9 0 0 1 643.1 2113Z" fill="#0caee3"/>
<path d="M692.4 2086.6V2124.6M677.9 2086.6h29M677.9 2124.6h29" stroke="#0caee3" stroke-width="2.6" fill="none" opacity="0.8"/>
<circle cx="692.4" cy="2105.6" r="15.9" fill="#fff" stroke="#0caee3" stroke-width="4.6"/><path d="M676.5 2102.6H708.3V2105.6A15.9 15.9 0 0 1 676.5 2105.6Z" fill="#0caee3"/>
<path d="M725.7 2081.8V2119.8M711.2 2081.8h29M711.2 2119.8h29" stroke="#0caee3" stroke-width="2.6" fill="none" opacity="0.8"/>
<circle cx="725.7" cy="2100.8" r="15.9" fill="#fff" stroke="#0caee3" stroke-width="4.6"/><path d="M709.8 2097.8H741.6V2100.8A15.9 15.9 0 0 1 709.8 2100.8Z" fill="#0caee3"/>
<path d="M763.6 2080.3V2118.3M749.1 2080.3h29M749.1 2118.3h29" stroke="#0caee3" stroke-width="2.6" fill="none" opacity="0.8"/>
<circle cx="763.6" cy="2099.3" r="15.9" fill="#fff" stroke="#0caee3" stroke-width="4.6"/><path d="M747.7 2096.3H779.5V2099.3A15.9 15.9 0 0 1 747.7 2099.3Z" fill="#0caee3"/>
<path d="M781.7 2098.6V2136.6M767.2 2098.6h29M767.2 2136.6h29" stroke="#0caee3" stroke-width="2.6" fill="none" opacity="0.8"/>
<circle cx="781.7" cy="2117.6" r="15.9" fill="#fff" stroke="#0caee3" stroke-width="4.6"/><path d="M765.8 2114.6H797.6V2117.6A15.9 15.9 0 0 1 765.8 2117.6Z" fill="#0caee3"/>
<text transform="translate(138.43 1716.6) scale(0.9850 1)" font-size="63">0.20</text>
<text transform="translate(138.59 1856.3) scale(0.9850 1)" font-size="63">0.15</text>
<text transform="translate(138.43 1996) scale(0.9850 1)" font-size="63">0.10</text>
<text transform="translate(138.59 2135.7) scale(0.9850 1)" font-size="63">0.05</text>
<text transform="translate(138.43 2275.4) scale(0.9850 1)" font-size="63">0.00</text>
<text transform="translate(301.81 2433.8) scale(0.9670 1)" font-size="79">0</text>
<text transform="translate(510.61 2433.8) scale(0.9670 1)" font-size="79">750</text>
<text transform="translate(740.33 2433.8) scale(0.9670 1)" font-size="79">1500</text>
<text transform="translate(993.06 2433.8) scale(0.9670 1)" font-size="79">2250</text>
<text transform="translate(1245.31 2433.8) scale(0.9670 1)" font-size="79">3000</text>
</g>
<g id="ytitles">
<text transform="translate(74 784.36) rotate(-90) scale(0.9404 1)" font-size="75.5">NO</text>
<text transform="translate(93 674.17) rotate(-90) scale(0.8591 1)" font-size="48.76">3</text>
<text transform="translate(48.34 678.35) rotate(-90)" font-size="70">-</text>
<text transform="translate(74 627.7) rotate(-90) scale(0.9665 1)" font-size="75.5">content / mol%</text>
<text transform="translate(93.2 1568.01) rotate(-90) scale(0.9656 1)" font-size="75.5">NO</text>
<text transform="translate(111.3 1458.46) rotate(-90) scale(0.9553 1)" font-size="49.46">2</text>
<text transform="translate(68.64 1434.75) rotate(-90)" font-size="70">-</text>
<text transform="translate(93.2 1392.7) rotate(-90) scale(0.9665 1)" font-size="75.5">content / mol%</text>
<text transform="translate(108 2313.49) rotate(-90) scale(0.9167 1)" font-size="75.5">O</text>
<text transform="translate(77.9 2256.61) rotate(-90) scale(0.9468 1)" font-size="48.75">2</text>
<text transform="translate(83.24 2232.45) rotate(-90)" font-size="70">-</text>
<text transform="translate(108 2193.6) rotate(-90) scale(0.9665 1)" font-size="75.5">content / mol%</text>
</g>
<text transform="translate(729.3 2556.6)" font-size="78.3">Time / h</text>
<text transform="translate(220.61 85.2)" font-size="79.8" font-weight="bold">Solar Salt at 600 °C with NO purge</text>
<g id="legend">
<text transform="translate(1494.2 239.7) scale(0.9820 1)" font-size="72" font-weight="bold">purge Gas</text>
<text transform="translate(1943.52 240.2) scale(0.9850 1)" font-size="72" font-weight="bold">200 ppm NO</text>
<text transform="translate(1492.09 328.4)" font-size="71.5">20% O</text>
<text transform="translate(1712.01 348.4)" font-size="48.5">2</text>
<text transform="translate(1492.09 433)" font-size="71.5">10% O</text>
<text transform="translate(1712.01 453)" font-size="48.5">2</text>
<text transform="translate(1531.95 537.5)" font-size="71.5">5% O</text>
<text transform="translate(1712.01 557.5)" font-size="48.5">2</text>
<circle cx="1877.8" cy="409.3" r="15.9" fill="#fff" stroke="#0caee3" stroke-width="4.6"/><path d="M1861.9 406.3H1893.7V409.3A15.9 15.9 0 0 1 1861.9 409.3Z" fill="#0caee3"/>
<circle cx="1876.6" cy="513.4" r="15.1" fill="none" stroke="#0caee3" stroke-width="5.0"/><path d="M1876.6 498.3V528.5" stroke="#0caee3" stroke-width="4.4" fill="none"/>
<path d="M1970.8 304.9H2025.7M2097.4 304.9H2132.9" stroke="#0caee3" stroke-width="12" stroke-linecap="round" fill="none"/>
<path d="M1976.9 409.6H1997.7M2034.1 409.6H2055M2091.3 409.6H2112.2" stroke="#0caee3" stroke-width="12" stroke-linecap="round" fill="none"/>
<path d="M1977.7 513.5h0.01M2003.45 513.5h0.01M2029.2 513.5h0.01M2054.95 513.5h0.01M2080.7 513.5h0.01M2106.45 513.5h0.01M2132.2 513.5h0.01" stroke="#0caee3" stroke-width="13" stroke-linecap="round" fill="none"/>
</g>
</svg>
</body>
</html>
